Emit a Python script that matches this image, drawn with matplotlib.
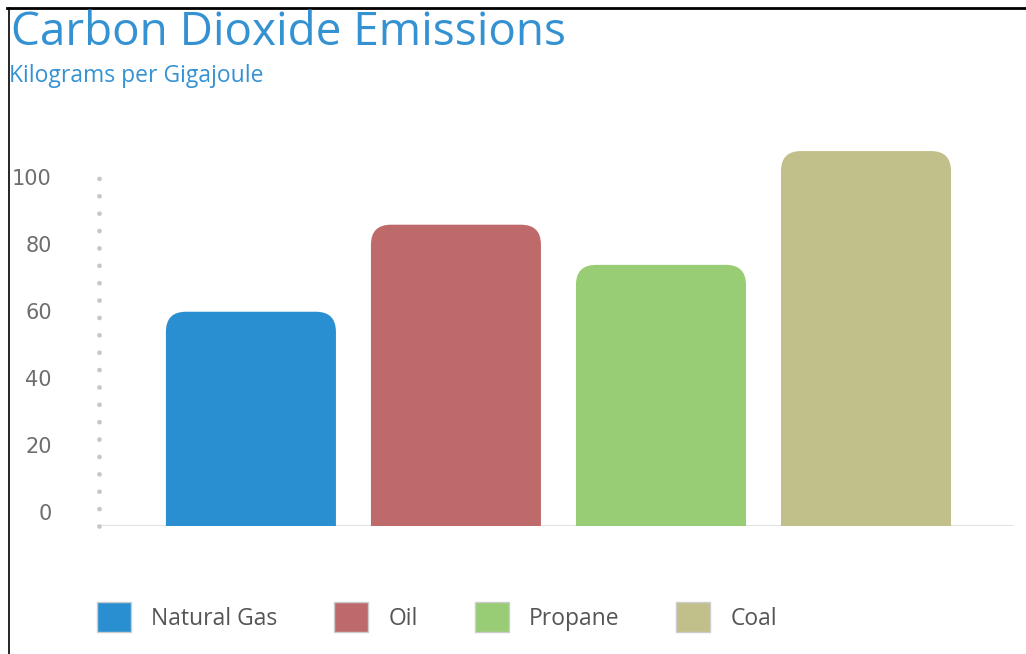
import numpy as np
import matplotlib
matplotlib.use("Agg")
import matplotlib.pyplot as plt
import matplotlib.patches as mpatches
from matplotlib.lines import Line2D
from matplotlib.transforms import ScaledTranslation

# datos del grafico
fuentes = ["Natural Gas", "Oil", "Propane", "Coal"]
emisiones = [64, 90, 78, 112]
colores = ["#2a8fd0", "#be6a6a", "#98cc75", "#c2c08a"]
ticks_y = [0, 20, 40, 60, 80, 100]

titulo = "Carbon Dioxide Emissions"
subtitulo = "Kilograms per Gigajoule"

W, H = 1026, 654
fig = plt.figure(figsize=(W / 100, H / 100), dpi=100)
ax = fig.add_axes([99 / W, 1 - 526 / H, (1013 - 99) / W, (526 - 141) / H])
ax.set_xlim(-0.741, 3.717)
ax.set_ylim(0, 115)

x = np.arange(len(fuentes))
barras = ax.bar(x, emisiones, width=170 / 205, color=colores)

# barras con esquinas superiores redondeadas
px_x = ax.get_position().width * W / (ax.get_xlim()[1] - ax.get_xlim()[0])
px_y = ax.get_position().height * H / (ax.get_ylim()[1] - ax.get_ylim()[0])
radio = 20
rx = radio / px_x
ry = radio / px_y
for b, c in zip(barras, colores):
    x0, w, h = b.get_x(), b.get_width(), b.get_height()
    b.remove()
    p = mpatches.FancyBboxPatch((x0, -ry), w, h + ry,
                                boxstyle=f"round,pad=0,rounding_size={rx}",
                                mutation_aspect=ry / rx,
                                facecolor=c, edgecolor="none")
    ax.add_patch(p)

# linea base y eje punteado
ax.axhline(0, color="#e3e3e3", lw=1.5, zorder=0)
ax.plot([ax.get_xlim()[0]] * 2, [0, 107.5], color="#c6c6c6", lw=3.4,
        linestyle=(0, (0.01, 3.67)), dash_capstyle="round", clip_on=False)

for s in ax.spines.values():
    s.set_visible(False)
ax.set_xticks([])
ax.set_yticks(ticks_y)
ax.tick_params(axis="y", length=0, pad=34, labelsize=15, labelcolor="#6e6e6e")
for lab in ax.get_yticklabels():
    lab.set_transform(lab.get_transform() + ScaledTranslation(0, 0.14, fig.dpi_scale_trans))

# titulos
fig.text(11 / W, 1 - 45 / H, titulo, fontsize=33, family="Open Sans",
         color="#3592d2", va="baseline")
fig.text(9 / W, 1 - 82 / H, subtitulo, fontsize=16.5, family="Open Sans",
         color="#3592d2", va="baseline")

# leyenda
manejadores = [mpatches.Patch(facecolor=c, edgecolor="#cccccc", lw=1, label=n)
               for n, c in zip(fuentes, colores)]
fs = 16.5 * 100 / 72
fig.legend(handles=manejadores, loc="upper left", bbox_to_anchor=(97 / W, 1 - 602 / H),
           ncol=4, frameon=False, prop={"family": "Open Sans", "size": 16.5},
           labelcolor="#555555", handlelength=34 / fs, handleheight=38 / fs,
           handletextpad=20 / fs, columnspacing=57 / fs, borderpad=0, borderaxespad=0)

# borde
fig.add_artist(Line2D([7 / W, 1], [1 - 8 / H] * 2, transform=fig.transFigure,
                      color="black", lw=2))
fig.add_artist(Line2D([8.5 / W] * 2, [0, 1 - 8 / H], transform=fig.transFigure,
                      color="black", lw=1.2))

fig.savefig("out.png", dpi=100)
